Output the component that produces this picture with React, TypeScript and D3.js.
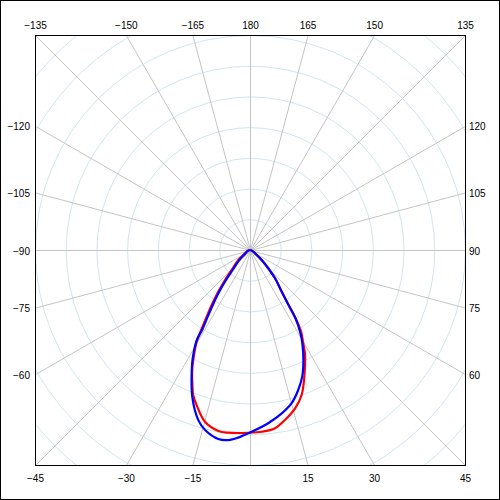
import React from "react";
import * as d3 from "d3";

const tickAngles = [-165, -150, -135, -120, -105, -90, -75, -60, -45, -30, -15, 15, 30, 45, 60, 75, 90, 105, 120, 135, 150, 165, 180];
const spokeAngles = d3.range(0, 360, 15);
const ringValues = [1, 2, 3, 4, 5, 6, 7, 8, 9, 10];

const redAngles = [-90, -70, -56.6, -49.5, -42.5, -39.8, -37.2, -34.9, -33.0, -31.4, -30.2, -27.3, -25.7, -23.1, -21.4, -19.0, -14.7, -9.9, -6.8, -0.5, 3.7, 8.0, 11.6, 15.9, 19.6, 23.2, 28.0, 29.7, 32.0, 33.7, 35.0, 37.2, 41.5, 45, 49.5, 56.6, 70, 90];
const redRadii = [0, 0.08, 0.2, 0.5, 0.88, 1.27, 1.71, 2.18, 2.59, 3.05, 3.45, 4.03, 4.34, 4.78, 5.07, 5.34, 5.78, 5.98, 5.99, 5.95, 5.93, 5.86, 5.65, 5.36, 5.01, 4.49, 3.81, 3.5, 3.14, 2.67, 2.19, 1.71, 1.23, 0.84, 0.5, 0.2, 0.08, 0];

const blueAngles = [-90, -70, -53, -46.9, -40.9, -38.7, -36.4, -34.1, -32.4, -31.0, -30.5, -27.6, -25.9, -21.5, -16.9, -14.0, -9.5, -6.5, -3.6, 0.5, 6.0, 11.0, 15.2, 19.0, 22.4, 25.9, 29.3, 31.5, 33.7, 35.0, 37.2, 41.5, 45, 49.5, 56.6, 70, 90];
const blueRadii = [0, 0.08, 0.18, 0.48, 0.86, 1.25, 1.69, 2.16, 2.57, 3.0, 3.44, 4.04, 4.34, 5.13, 5.79, 6.04, 6.24, 6.23, 6.12, 5.92, 5.67, 5.42, 5.17, 4.82, 4.46, 3.98, 3.48, 3.12, 2.67, 2.19, 1.71, 1.23, 0.84, 0.5, 0.2, 0.08, 0];

const W = 500;
const H = 500;
const cx = 250.5;
const cy = 250.5;
const half = 215;
const rScale = d3.scaleLinear().domain([0, 7]).range([0, half]);
const toRad = (deg: number) => (Math.PI * deg) / 180;

function fmt(a: number) {
  return a < 0 ? "\u2212" + Math.abs(a) : String(a);
}

function labelPos(a: number) {
  const s = Math.sin(toRad(a));
  const c = Math.cos(toRad(a));
  if (Math.abs(a) >= 135) {
    const x = cx + half * (s / Math.abs(c));
    return { x, y: 29, anchor: "middle" };
  }
  if (Math.abs(a) <= 45) {
    const x = cx + half * (s / Math.abs(c));
    return { x, y: 482, anchor: "middle" };
  }
  const y = cy + half * (c / Math.abs(s));
  if (a < 0) return { x: 30, y: y + 4, anchor: "end" };
  return { x: 469, y: y + 4, anchor: "start" };
}

export default function App() {
  const line = d3
    .lineRadial<[number, number]>()
    .angle((d) => Math.PI - toRad(d[0]))
    .radius((d) => rScale(d[1]))
    .curve(d3.curveCatmullRom.alpha(0.5));

  const red = line(redAngles.map((a, i) => [a, redRadii[i]] as [number, number])) || "";
  const blue = line(blueAngles.map((a, i) => [a, blueRadii[i]] as [number, number])) || "";

  const far = 400;

  return (
    <svg
      width={W}
      height={H}
      style={{ position: "absolute", left: 0, top: 0, background: "#fff" }}
      fontFamily="'Liberation Sans', Arial, sans-serif"
      fontSize={10}
    >
      <defs>
        <clipPath id="plot">
          <rect x={cx - half} y={cy - half} width={half * 2} height={half * 2} />
        </clipPath>
      </defs>
      <rect x={0.5} y={0.5} width={W - 1} height={H - 1} fill="#fff" stroke="#000" />
      <g clipPath="url(#plot)">
        {ringValues.map((v) => (
          <circle key={v} cx={cx} cy={cy} r={rScale(v)} fill="none" stroke="#cfe6ee" strokeWidth={1} />
        ))}
        {spokeAngles.map((a) => (
          <line
            key={a}
            x1={cx}
            y1={cy}
            x2={cx + far * Math.sin(toRad(a))}
            y2={cy + far * Math.cos(toRad(a))}
            stroke="#c4c4c4"
            strokeWidth={1}
          />
        ))}
        <g transform={`translate(${cx - 0.5},${cy - 0.5})`}>
          <path d={red} fill="none" stroke="#ff0000" strokeWidth={2.2} strokeLinejoin="round" />
          <path d={blue} fill="none" stroke="#0000ff" strokeWidth={2.2} strokeLinejoin="round" />
        </g>
      </g>
      <rect x={cx - half} y={cy - half} width={half * 2} height={half * 2} fill="none" stroke="#000" strokeWidth={1} />
      {tickAngles.map((a) => {
        const p = labelPos(a);
        return (
          <text key={a} x={p.x} y={p.y} textAnchor={p.anchor as any} fill="#000">
            {fmt(a)}
          </text>
        );
      })}
    </svg>
  );
}
